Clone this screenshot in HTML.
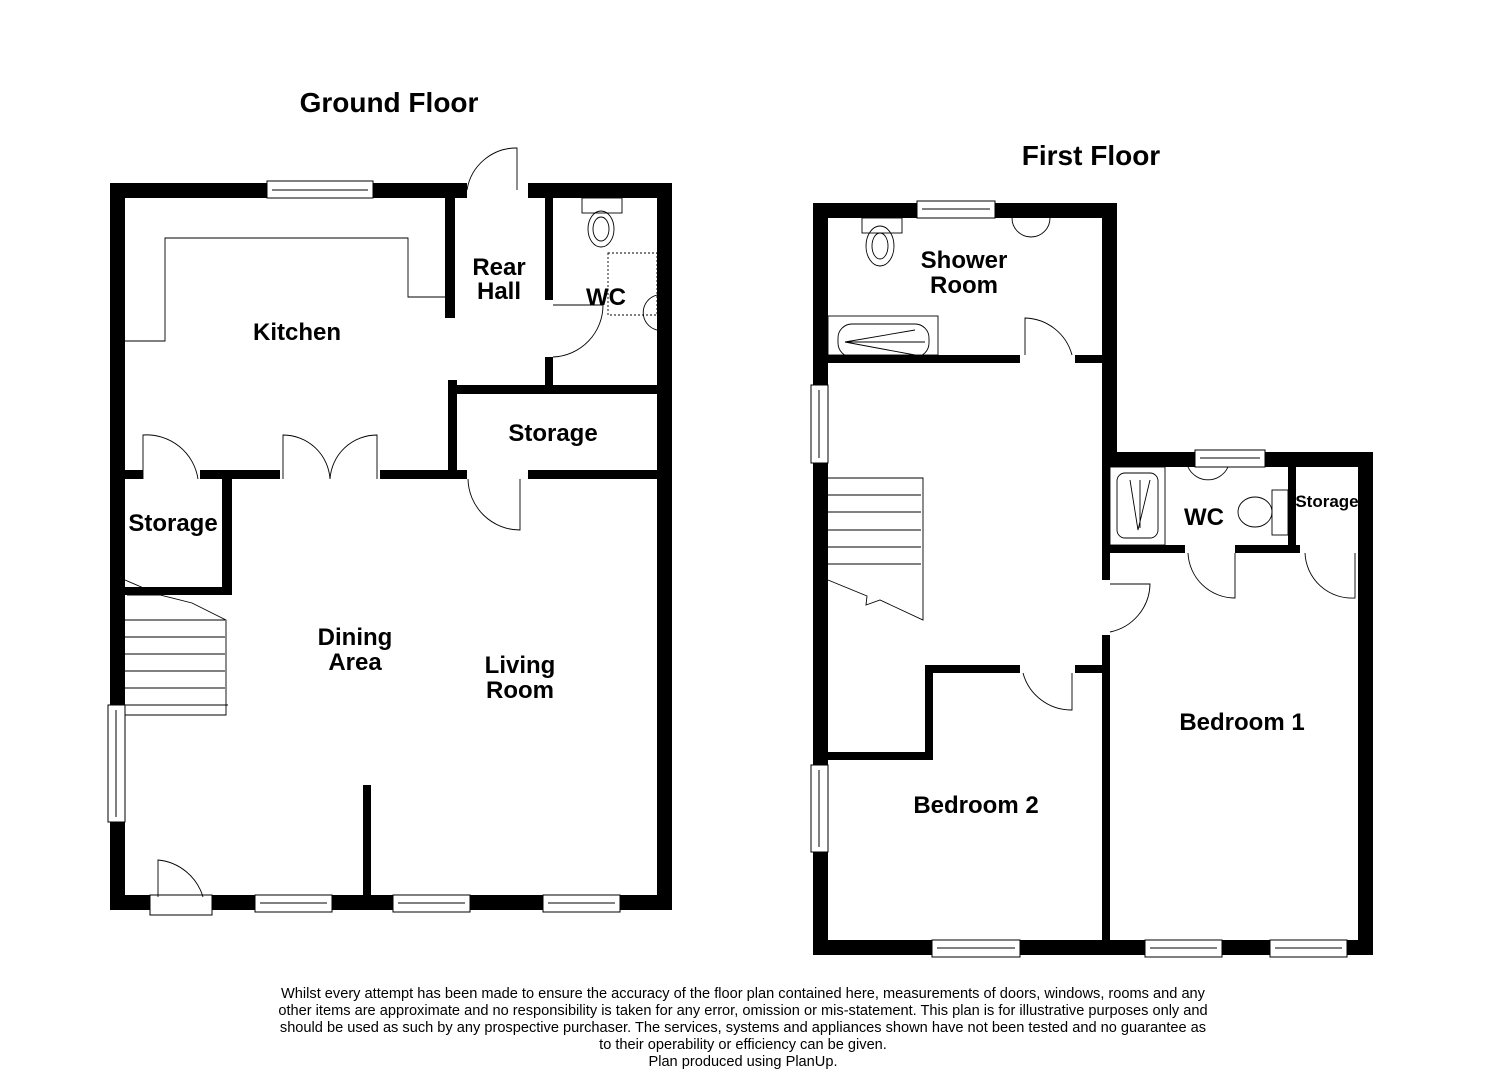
<!DOCTYPE html>
<html><head><meta charset="utf-8"><style>
html,body{margin:0;padding:0;background:#fff;}
svg{display:block;}
text{font-family:"Liberation Sans",Arial,sans-serif;font-weight:bold;fill:#000;}
.d{font-weight:normal;font-size:14.6px;}
</style></head><body>
<svg width="1485" height="1080" viewBox="0 0 1485 1080" xmlns="http://www.w3.org/2000/svg">
<g fill="#000">
<rect x="110" y="183" width="357" height="15"/>
<rect x="528" y="183" width="144" height="15"/>
<rect x="110" y="183" width="15" height="727"/>
<rect x="657" y="183" width="15" height="727"/>
<rect x="110" y="895" width="40" height="15"/>
<rect x="212" y="895" width="460" height="15"/>
<rect x="445" y="198" width="10" height="120"/>
<rect x="448" y="380" width="9" height="98"/>
<rect x="545" y="198" width="8" height="102"/>
<rect x="545" y="357" width="8" height="30"/>
<rect x="448" y="385" width="209" height="9"/>
<rect x="125" y="470" width="18" height="9"/>
<rect x="200" y="470" width="80" height="9"/>
<rect x="380" y="470" width="87" height="9"/>
<rect x="528" y="470" width="129" height="9"/>
<rect x="222" y="479" width="10" height="116"/>
<rect x="125" y="587" width="107" height="8"/>
<rect x="363" y="785" width="8" height="110"/>
<rect x="813" y="203" width="304" height="15"/>
<rect x="813" y="203" width="15" height="752"/>
<rect x="1102" y="203" width="15" height="264"/>
<rect x="828" y="355" width="192" height="8"/>
<rect x="1075" y="355" width="27" height="8"/>
<rect x="813" y="940" width="560" height="15"/>
<rect x="1358" y="452" width="15" height="503"/>
<rect x="1102" y="452" width="271" height="15"/>
<rect x="1102" y="467" width="8" height="113"/>
<rect x="1102" y="635" width="8" height="305"/>
<rect x="1110" y="545" width="75" height="8"/>
<rect x="1235" y="545" width="65" height="8"/>
<rect x="1288" y="467" width="8" height="86"/>
<rect x="925" y="665" width="95" height="8"/>
<rect x="1075" y="665" width="27" height="8"/>
<rect x="925" y="665" width="8" height="95"/>
<rect x="828" y="752" width="105" height="8"/>
</g>
<g fill="#fff" stroke="#000" stroke-width="1">
<rect x="267" y="181" width="106" height="17"/><line x1="272" y1="190" x2="368" y2="190"/>
<rect x="255" y="895" width="77" height="17"/><line x1="260" y1="903" x2="327" y2="903"/>
<rect x="393" y="895" width="77" height="17"/><line x1="398" y1="903" x2="465" y2="903"/>
<rect x="543" y="895" width="77" height="17"/><line x1="548" y1="903" x2="615" y2="903"/>
<rect x="108" y="705" width="17" height="117"/><line x1="116" y1="710" x2="116" y2="817"/>
<rect x="917" y="201" width="78" height="17"/><line x1="922" y1="209" x2="990" y2="209"/>
<rect x="811" y="385" width="17" height="78"/><line x1="819" y1="390" x2="819" y2="458"/>
<rect x="811" y="765" width="17" height="87"/><line x1="819" y1="770" x2="819" y2="847"/>
<rect x="932" y="940" width="88" height="17"/><line x1="937" y1="948" x2="1015" y2="948"/>
<rect x="1145" y="940" width="77" height="17"/><line x1="1150" y1="948" x2="1217" y2="948"/>
<rect x="1270" y="940" width="77" height="17"/><line x1="1275" y1="948" x2="1342" y2="948"/>
<rect x="1195" y="450" width="70" height="17"/><line x1="1200" y1="458" x2="1260" y2="458"/>
<rect x="150" y="895" width="62" height="20"/>
</g>
<g fill="none" stroke="#000" stroke-width="0.9">
<path d="M467 190 A50 50 0 0 1 517 148 L517 190"/>
<path d="M553 357 A52 52 0 0 0 603 305 L553 305"/>
<path d="M143 479 V435 A52 52 0 0 1 198 479"/>
<path d="M283 479 V435 A47 47 0 0 1 330 479 M377 479 V435 A47 47 0 0 0 330 479"/>
<path d="M468 479 A52 52 0 0 0 520 530 V479"/>
<path d="M158 897 V860 A52 52 0 0 1 203 897"/>
<path d="M1025 355 V318 A50 50 0 0 1 1072 355"/>
<path d="M1110 632 A50 50 0 0 0 1150 584 L1110 584"/>
<path d="M1188 553 A47 47 0 0 0 1235 598 V553"/>
<path d="M1305 553 A47 47 0 0 0 1355 598 V553"/>
<path d="M1023 673 A50 50 0 0 0 1072 710 V673"/>
<path d="M125 341 H165 V238 H408 V297 H445"/>
<path d="M125 580 L160 595 M127 595 H160 L192 603 L226 620 V715 H125"/>
<path d="M125 620 H225 M125 637 H225 M125 654 H225 M125 671 H225 M125 688 H225 M125 705 H228"/>
<path d="M828 478 H923 V620 L880 600 L866 605 L867 596 L828 580"/>
<path d="M828 495 H921 M828 512 H921 M828 530 H921 M828 547 H921 M828 564 H921"/>
<rect x="582" y="198" width="40" height="15"/><ellipse cx="601" cy="229" rx="13" ry="18"/><ellipse cx="601" cy="229" rx="8" ry="12"/>
<path d="M657 295 A18 18 0 0 0 657 330"/><rect x="608" y="253" width="49" height="62" stroke-dasharray="2 2"/>
<rect x="862" y="218" width="40" height="15"/><ellipse cx="880" cy="246" rx="14" ry="20"/><ellipse cx="880" cy="246" rx="8" ry="13"/>
<path d="M1012 218 A18 18 0 0 0 1050 218"/>
<rect x="828" y="316" width="110" height="39"/><rect x="838" y="324" width="91" height="33" rx="14"/>
<path d="M845 342 L915 330 M845 342 L925 342 M845 342 L915 355"/>
<rect x="1110" y="467" width="55" height="78"/><rect x="1117" y="473" width="41" height="65" rx="8"/>
<path d="M1130 480 L1138 530 L1150 480 M1140 480 V528"/>
<path d="M1188 467 A22 22 0 0 0 1228 467"/>
<ellipse cx="1255" cy="512" rx="17" ry="15"/><rect x="1272" y="490" width="16" height="45"/>
</g>
<text x="389" y="112" font-size="28" text-anchor="middle">Ground Floor</text>
<text x="1091" y="165" font-size="28" text-anchor="middle">First Floor</text>
<g font-size="24" text-anchor="middle">
<text x="297" y="340">Kitchen</text>
<text x="499" y="275">Rear</text><text x="499" y="299">Hall</text>
<text x="606" y="305">WC</text>
<text x="553" y="441">Storage</text>
<text x="173" y="531">Storage</text>
<text x="355" y="645">Dining</text><text x="355" y="670">Area</text>
<text x="520" y="673">Living</text><text x="520" y="698">Room</text>
<text x="964" y="268">Shower</text><text x="964" y="293">Room</text>
<text x="1204" y="525">WC</text>
<text x="1242" y="730">Bedroom 1</text>
<text x="976" y="813">Bedroom 2</text>
<text x="1327" y="507" font-size="17">Storage</text>
</g>
<g text-anchor="middle">
<text class="d" x="743" y="998">Whilst every attempt has been made to ensure the accuracy of the floor plan contained here, measurements of doors, windows, rooms and any</text>
<text class="d" x="743" y="1015">other items are approximate and no responsibility is taken for any error, omission or mis-statement. This plan is for illustrative purposes only and</text>
<text class="d" x="743" y="1032">should be used as such by any prospective purchaser. The services, systems and appliances shown have not been tested and no guarantee as</text>
<text class="d" x="743" y="1049">to their operability or efficiency can be given.</text>
<text class="d" x="743" y="1066">Plan produced using PlanUp.</text>
</g>
</svg>
</body></html>
